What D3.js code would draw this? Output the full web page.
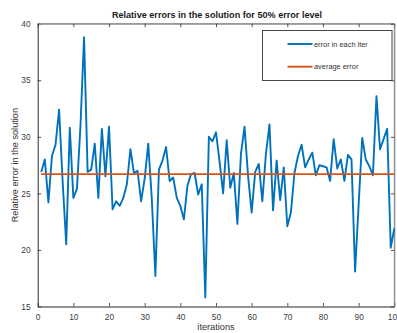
<!DOCTYPE html>
<html>
<head>
<meta charset="utf-8">
<script src="https://cdn.jsdelivr.net/npm/d3@7"></script>
<style>
  html, body { margin: 0; padding: 0; background: #fff; }
  svg { display: block; font-family: "Liberation Sans", Arial, Helvetica, sans-serif; }
</style>
</head>
<body>
<svg id="chart" width="397" height="333"></svg>
<script>
// Relative error of the solution at every iteration (50% error level)
const iterations = d3.range(1, 101);
const errorValues = [
  26.9, 28.0, 24.2, 28.3, 29.3, 32.4, 26.0, 20.5, 30.8, 24.6,
  25.4, 31.0, 38.8, 26.9, 27.1, 29.4, 24.6, 30.7, 26.5, 30.9,
  23.6, 24.3, 23.9, 24.6, 25.8, 28.9, 26.8, 27.0, 24.3, 26.3,
  29.4, 24.5, 17.7, 27.1, 27.9, 29.1, 26.1, 26.4, 24.6, 23.9,
  22.7, 25.7, 26.7, 26.8, 24.9, 25.8, 15.8, 30.0, 29.6, 30.4,
  27.8, 25.0, 29.7, 25.5, 26.8, 22.3, 28.5, 30.9, 26.5, 23.3,
  26.9, 27.6, 24.3, 28.5, 31.1, 23.5, 27.9, 24.4, 27.3, 22.1,
  23.3, 26.8, 28.3, 29.3, 27.3, 28.0, 28.6, 26.6, 27.5, 27.4,
  27.3, 26.1, 29.8, 27.2, 28.0, 26.1, 28.4, 28.0, 18.1, 24.0,
  29.9, 28.0, 27.4, 26.6, 33.6, 28.9, 29.8, 30.7, 20.2, 21.9
];
const averageError = [26.7];
const xTicks = [0, 10, 20, 30, 40, 50, 60, 70, 80, 90, 100];
const yTicks = [15, 20, 25, 30, 35, 40];
const seriesNames = ["error in each iter", "average error"];
const seriesColors = ["#0072BD", "#D95319"];

const svg = d3.select("#chart");
const plotLeft = 37.7, plotRight = 394.3, plotTop = 23.7, plotBottom = 306.5;

const x = d3.scaleLinear().domain([0, 100]).range([plotLeft, plotRight]);
const y = d3.scaleLinear().domain([15, 40]).range([plotBottom, plotTop]);

const tick = 3.5;
const axisColor = "#2b2b2b";
const boxColor = "#8a8a8a";

// Axes box: top and right edges in a lighter grey
svg.append("line").attr("x1", plotLeft).attr("x2", plotRight).attr("y1", plotTop).attr("y2", plotTop)
  .attr("stroke", boxColor).attr("stroke-width", 1);
svg.append("line").attr("x1", plotRight).attr("x2", plotRight).attr("y1", plotTop).attr("y2", plotBottom)
  .attr("stroke", boxColor).attr("stroke-width", 1);

function styleAxis(g, showText) {
  g.select(".domain").attr("stroke", axisColor).attr("stroke-width", 1);
  g.selectAll(".tick line").attr("stroke", axisColor).attr("stroke-width", 0.8);
  g.selectAll(".tick text")
    .attr("fill", "#404040")
    .style("font-size", "8.4px")
    .style("display", showText ? null : "none");
}

// Bottom and left axes with inward ticks
svg.append("g").attr("transform", `translate(0,${plotBottom})`)
  .call(d3.axisBottom(x).tickValues(xTicks).tickSizeInner(-tick).tickSizeOuter(0).tickPadding(8))
  .call(g => styleAxis(g, true));
svg.append("g").attr("transform", `translate(${plotLeft},0)`)
  .call(d3.axisLeft(y).tickValues(yTicks).tickSizeInner(-tick).tickSizeOuter(0).tickPadding(7))
  .call(g => styleAxis(g, true));

// Mirrored ticks on top and right
svg.append("g").attr("transform", `translate(0,${plotTop})`)
  .call(d3.axisTop(x).tickValues(xTicks).tickSizeInner(-tick).tickSizeOuter(0))
  .call(g => { styleAxis(g, false); g.select(".domain").attr("stroke", boxColor); });
svg.append("g").attr("transform", `translate(${plotRight},0)`)
  .call(d3.axisRight(y).tickValues(yTicks).tickSizeInner(-tick).tickSizeOuter(0))
  .call(g => { styleAxis(g, false); g.select(".domain").attr("stroke", boxColor); });

// Error per iteration
const line = d3.line().x((d, i) => x(iterations[i])).y(d => y(d));
svg.append("path").datum(errorValues)
  .attr("d", line)
  .attr("fill", "none")
  .attr("stroke", seriesColors[0])
  .attr("stroke-width", 1.9)
  .attr("stroke-linejoin", "round");

// Average error
svg.append("line")
  .attr("x1", x(iterations[0])).attr("x2", x(iterations[iterations.length - 1]))
  .attr("y1", y(averageError[0])).attr("y2", y(averageError[0]))
  .attr("stroke", seriesColors[1]).attr("stroke-width", 1.9);

// Title and axis labels
svg.append("text").attr("x", 217).attr("y", 18)
  .attr("text-anchor", "middle").style("font-size", "9.1px").style("font-weight", "bold")
  .attr("fill", "#1a1a1a")
  .text("Relative errors in the solution for 50% error level");
svg.append("text").attr("x", (plotLeft + plotRight) / 2).attr("y", 330)
  .attr("text-anchor", "middle").style("font-size", "9.2px").attr("fill", "#333")
  .text("iterations");
svg.append("text")
  .attr("transform", `translate(18,${(plotTop + plotBottom) / 2}) rotate(-90)`)
  .attr("text-anchor", "middle").style("font-size", "9.2px").attr("fill", "#333")
  .text("Relative error in the solution");

// Legend
const legend = svg.append("g");
legend.append("rect").attr("x", 262.5).attr("y", 30.5).attr("width", 129.5).attr("height", 50)
  .attr("fill", "#fff").attr("stroke", "#333").attr("stroke-width", 0.9);
const legendRows = [44, 66.7];
seriesNames.forEach((name, i) => {
  legend.append("line").attr("x1", 287.5).attr("x2", 312.5)
    .attr("y1", legendRows[i]).attr("y2", legendRows[i])
    .attr("stroke", seriesColors[i]).attr("stroke-width", 1.9);
  legend.append("text").attr("x", 314).attr("y", legendRows[i] + 2.6)
    .style("font-size", "7.4px").attr("fill", "#333").text(name);
});
</script>
</body>
</html>
